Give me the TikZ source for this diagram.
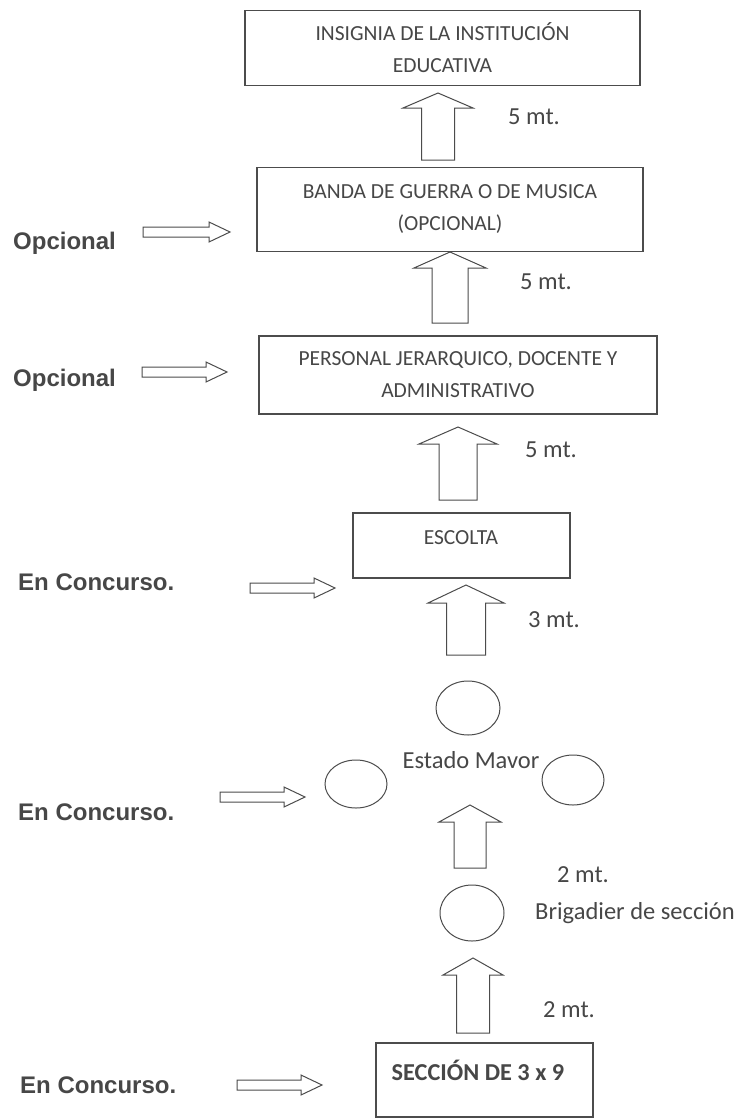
\documentclass[tikz,border=0pt]{standalone}
\usepackage{fontspec}
\setmainfont{Carlito}
\newfontfamily\arialf{Liberation Sans}
\usetikzlibrary{shapes.geometric,calc}
\definecolor{ink}{gray}{0.3}
\definecolor{txt}{gray}{0.28}
\newcommand\blockup[6]{%
  \draw[blk] (#1,#2) -- ({#1+#5},#3) -- ({#1+#6},#3) -- ({#1+#6},#4) -- ({#1-#6},#4) -- ({#1-#6},#3) -- ({#1-#5},#3) -- cycle;}
\newcommand\blockright[3]{%
  \draw[blk] (#1,{#3-5}) -- ({#2-21},{#3-5}) -- ({#2-21},{#3-10}) -- (#2,#3) -- ({#2-21},{#3+10}) -- ({#2-21},{#3+5}) -- (#1,{#3+5}) -- cycle;}
\begin{document}
\begin{tikzpicture}[x=1pt,y=-1pt,
  box/.style={draw=ink,line width=1.1pt,rectangle,inner sep=0pt,align=center,text=txt,
    font=\fontsize{21.5}{32}\selectfont},
  boxtext/.style={inner sep=0pt,text=txt,font=\fontsize{21.5}{32}\selectfont},
  blk/.style={draw=ink,line width=1pt,fill=white,line join=miter},
  oval/.style={draw=ink,line width=1pt,ellipse,inner sep=0pt},
  dist/.style={inner sep=0pt,anchor=west,text=txt,font=\fontsize{24.5}{28}\selectfont},
  side/.style={inner sep=0pt,anchor=west,text=txt,font=\arialf\bfseries\fontsize{24}{28}\selectfont}]
\useasboundingbox (0,0) rectangle (735,1119);
\fill[white] (0,0) rectangle (735,1119);
% boxes
\node[box,minimum width=395pt,minimum height=75pt] (b1) at (442.5,48) {INSIGNIA DE LA INSTITUCIÓN\\EDUCATIVA};
\node[box,minimum width=386pt,minimum height=84pt] (b2) at (450,209.5) {BANDA DE GUERRA O DE MUSICA\\(OPCIONAL)};
\node[box,minimum width=398pt,minimum height=78pt] (b3) at (458,375) {PERSONAL JERARQUICO, DOCENTE Y\\ADMINISTRATIVO};
\node[box,minimum width=217pt,minimum height=65pt] (b4) at (461.5,545.5) {};
\node[boxtext] (b4t) at (461,538) {ESCOLTA};
\node[box,minimum width=217pt,minimum height=74pt] (b5) at (484.5,1080) {};
\node[boxtext,font=\bfseries\fontsize{24.3}{28}\selectfont] (b5t) at (478,1070) {SECCIÓN DE 3 x 9};
% ellipses
\node[oval,minimum width=64pt,minimum height=54pt] (e1) at (468,708) {};
\node[oval,minimum width=62pt,minimum height=48pt] (e2) at (356,784) {};
\node[oval,minimum width=62pt,minimum height=50pt] (e3) at (573,780) {};
\node[oval,minimum width=64pt,minimum height=56pt] (e4) at (472,913) {};
\node[inner sep=0pt,text=txt,font=\fontsize{24.5}{28}\selectfont] (em) at (471,760) {Estado Mavor};
\node[dist] (brig) at (535,913) {Brigadier de sección};
% vertical block arrows
\blockup{438}{93}{108}{160}{35}{16.5}
\blockup{450}{252}{268}{323}{36}{18}
\blockup{458}{427}{444}{500}{39}{19}
\blockup{466}{585}{603}{655}{38}{19.5}
\blockup{470}{805}{822}{868}{31}{16}
\blockup{473}{958}{975}{1033}{30}{16.5}
% distance labels
\node[dist] (d1) at (508,117) {5 mt.};
\node[dist] (d2) at (520,282) {5 mt.};
\node[dist] (d3) at (525,450) {5 mt.};
\node[dist] (d4) at (528,620) {3 mt.};
\node[dist] (d5) at (557,875) {2 mt.};
\node[dist] (d6) at (543,1010) {2 mt.};
% side labels
\node[side] (s1) at (13,243) {Opcional};
\node[side] (s2) at (13,380) {Opcional};
\node[side] (s3) at (18,582) {En Concurso.};
\node[side] (s4) at (18,812) {En Concurso.};
\node[side] (s5) at (20,1085) {En Concurso.};
% horizontal block arrows
\blockright{143}{230}{232}
\blockright{142}{227}{372}
\blockright{250}{335}{588}
\blockright{220}{305}{797}
\blockright{237}{322}{1085}
\end{tikzpicture}
\end{document}
